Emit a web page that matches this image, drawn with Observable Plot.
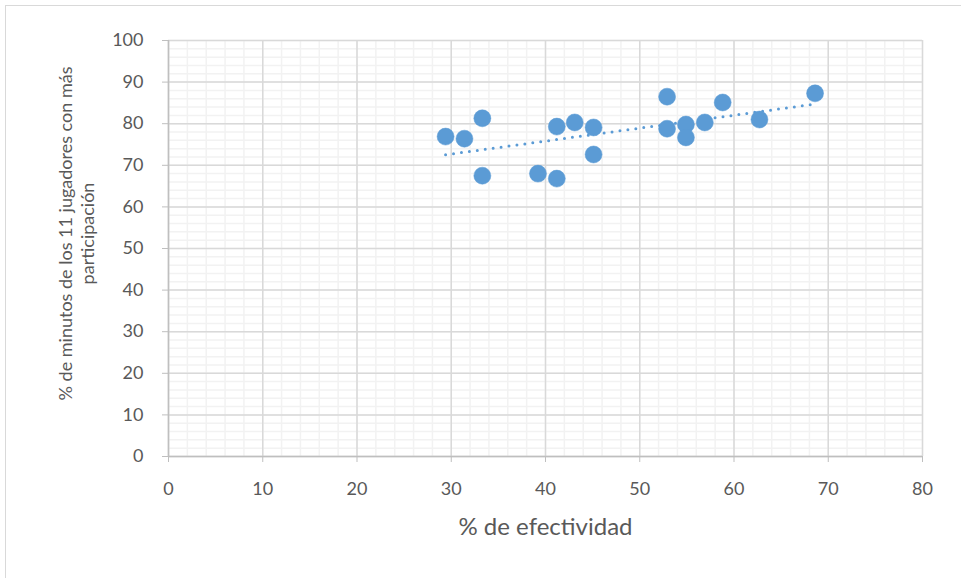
<!DOCTYPE html>
<html>
<head>
<meta charset="utf-8">
<script src="https://cdn.jsdelivr.net/npm/d3@7"></script>
<script src="https://cdn.jsdelivr.net/npm/@observablehq/plot@0.6"></script>
<style>
  html, body { margin: 0; padding: 0; background: #fff; }
  #wrap { position: relative; width: 961px; height: 578px; overflow: hidden; }
  #border { position: absolute; left: 5px; top: 5px; width: 2000px; height: 2000px;
            border-left: 1px solid #d9d9d9; border-top: 1px solid #d9d9d9; pointer-events: none; }
  svg { position: absolute; left: 0; top: 0; }
</style>
</head>
<body>
<div id="wrap"><div id="border"></div></div>
<script>
// % de efectividad
const efectividad = [29.4, 31.4, 33.3, 33.3, 39.2, 41.2, 41.2, 43.1, 45.1, 45.1, 52.9, 52.9, 54.9, 54.9, 56.9, 58.8, 62.7, 68.6];
// % de minutos de los 11 jugadores con más participación
const minutos = [76.9, 76.4, 81.3, 67.5, 68.0, 66.8, 79.3, 80.3, 79.1, 72.6, 86.5, 78.8, 79.8, 76.7, 80.3, 85.1, 81.0, 87.3];
const xTicks = [0, 10, 20, 30, 40, 50, 60, 70, 80];
const yTicks = [0, 10, 20, 30, 40, 50, 60, 70, 80, 90, 100];
const xMinor = d3.range(0, 81, 2);
const yMinor = d3.range(0, 101, 2);
const xTitle = "% de efectividad";
const yTitle1 = "% de minutos de los 11 jugadores con más";
const yTitle2 = "participación";

const data = efectividad.map((x, i) => ({x, y: minutos[i]}));

const font = "Lato, 'Open Sans', sans-serif";

const chart = Plot.plot({
  width: 961,
  height: 578,
  marginLeft: 168,
  marginRight: 39,
  marginTop: 40,
  marginBottom: 122,
  style: {fontFamily: font, fontSize: "18px", color: "#595959", background: "transparent"},
  x: {domain: [0, 80], label: null, line: false},
  y: {domain: [0, 100], label: null, line: false},
  marks: [
    Plot.ruleX(xMinor, {stroke: "#f2f2f2", strokeWidth: 1.5}),
    Plot.ruleY(yMinor, {stroke: "#f2f2f2", strokeWidth: 1.5}),
    Plot.ruleX(xTicks, {stroke: "#d9d9d9", strokeWidth: 1.5}),
    Plot.ruleY(yTicks, {stroke: "#d9d9d9", strokeWidth: 1.5}),
    Plot.ruleX([0], {stroke: "#bfbfbf", strokeWidth: 1.5}),
    Plot.ruleY([0], {stroke: "#bfbfbf", strokeWidth: 1.5}),
    Plot.axisX({ticks: xTicks, tickSize: 6, tickPadding: 20, stroke: "#bfbfbf", fill: "#595959", fontSize: 18, label: null}),
    Plot.axisY({ticks: yTicks, tickSize: 6, tickPadding: 19, stroke: "#bfbfbf", fill: "#595959", fontSize: 18, label: null}),
    Plot.linearRegressionY(data, {x: "x", y: "y", ci: 0, stroke: "#5b9bd5", strokeWidth: 3,
      strokeLinecap: "round", strokeDasharray: "0,8"}),
    Plot.dot(data, {x: "x", y: "y", r: 8.5, fill: "#5b9bd5", stroke: "#5b9bd5", strokeWidth: 0.5}),
    Plot.text([xTitle], {frameAnchor: "bottom", dy: 78, fontSize: 24, fill: "#595959", textAnchor: "middle"}),
    Plot.text([yTitle1], {frameAnchor: "left", dx: -102, dy: -15, rotate: -90, fontSize: 18, fill: "#595959", textAnchor: "middle"}),
    Plot.text([yTitle2], {frameAnchor: "left", dx: -80, dy: -15, rotate: -90, fontSize: 18, fill: "#595959", textAnchor: "middle"})
  ]
});
document.getElementById("wrap").prepend(chart);
</script>
</body>
</html>
